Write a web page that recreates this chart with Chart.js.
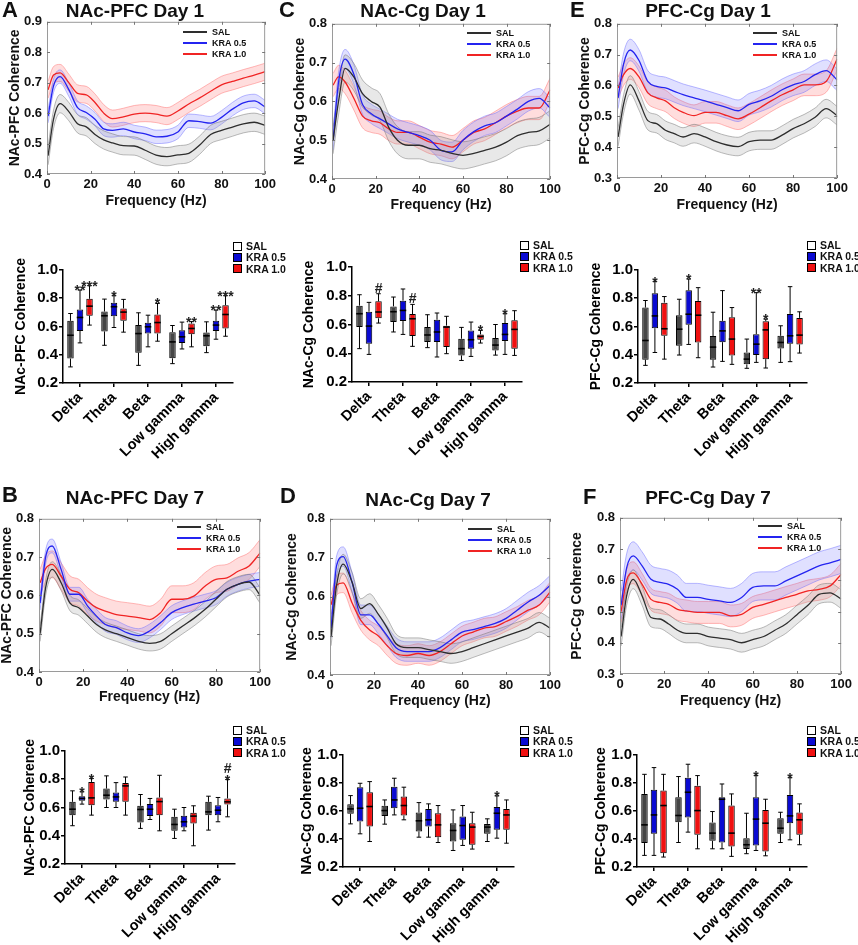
<!DOCTYPE html>
<html><head><meta charset="utf-8">
<script src="https://cdn.jsdelivr.net/npm/chart.js@4.4.1/dist/chart.umd.min.js"></script>
<style>
body{margin:0;width:858px;height:945px;background:#fff;position:relative;overflow:hidden;font-family:"Liberation Sans",Arial,sans-serif;}
.pc{position:absolute}
.tx{position:absolute;font-weight:bold;white-space:nowrap;line-height:1;color:#111}
.sw{position:absolute}
</style></head><body>
<script>
// ---------- DATA ----------
const FREQ = [0.5,3,6,10,14,18,22,26,30,35,40,45,50,55,60,65,70,75,80,85,90,95,100];
const GROUPS = ['SAL','KRA 0.5','KRA 1.0'];
const BANDS = ['Delta','Theta','Beta','Low gamma','High gamma'];

// Panel A: NAc-PFC Day 1 (mean coherence)
const A_SAL = [0.46,0.58,0.631,0.605,0.565,0.555,0.53,0.512,0.502,0.493,0.492,0.478,0.462,0.457,0.463,0.468,0.495,0.53,0.543,0.554,0.565,0.57,0.56];
const A_K05 = [0.59,0.69,0.72,0.677,0.618,0.602,0.58,0.548,0.543,0.548,0.538,0.532,0.522,0.524,0.538,0.575,0.572,0.567,0.586,0.613,0.634,0.64,0.62];
const A_K10 = [0.677,0.725,0.732,0.7,0.665,0.66,0.635,0.6,0.582,0.588,0.597,0.6,0.597,0.59,0.607,0.63,0.65,0.672,0.693,0.704,0.715,0.725,0.736];
const A_SEM = [0.03,0.022,0.028];
// Panel C: NAc-Cg Day 1
const C_SAL = [0.5,0.6,0.685,0.663,0.62,0.6,0.585,0.533,0.5,0.487,0.487,0.478,0.474,0.466,0.461,0.466,0.474,0.482,0.495,0.512,0.52,0.524,0.541];
const C_K05 = [0.5,0.65,0.709,0.67,0.592,0.568,0.555,0.542,0.529,0.52,0.512,0.5,0.474,0.47,0.5,0.522,0.537,0.545,0.562,0.58,0.6,0.608,0.583];
const C_K10 = [0.642,0.663,0.65,0.608,0.562,0.55,0.545,0.529,0.52,0.52,0.508,0.495,0.49,0.482,0.5,0.52,0.529,0.545,0.562,0.575,0.583,0.583,0.63];
const C_SEM = [0.035,0.025,0.03];
// Panel E: PFC-Cg Day 1
const E_SAL = [0.433,0.54,0.602,0.55,0.486,0.476,0.455,0.444,0.433,0.444,0.433,0.418,0.407,0.402,0.418,0.423,0.423,0.439,0.46,0.476,0.497,0.525,0.502];
const E_K05 = [0.56,0.67,0.715,0.681,0.613,0.597,0.592,0.581,0.57,0.56,0.55,0.539,0.528,0.518,0.539,0.55,0.565,0.586,0.602,0.613,0.635,0.648,0.618];
const E_K10 = [0.592,0.635,0.655,0.628,0.576,0.56,0.55,0.528,0.513,0.502,0.513,0.513,0.502,0.492,0.507,0.528,0.55,0.57,0.586,0.602,0.602,0.613,0.686];
const E_SEM = [0.03,0.035,0.035];
// Panel B: NAc-PFC Day 7
const B_SAL = [0.5,0.62,0.668,0.633,0.58,0.568,0.546,0.524,0.51,0.5,0.49,0.48,0.475,0.48,0.5,0.52,0.54,0.563,0.59,0.616,0.629,0.635,0.6];
const B_K05 = [0.58,0.7,0.729,0.668,0.603,0.603,0.572,0.546,0.524,0.516,0.502,0.495,0.507,0.529,0.555,0.568,0.577,0.585,0.594,0.616,0.629,0.637,0.642];
const B_K10 = [0.633,0.67,0.681,0.65,0.616,0.607,0.585,0.568,0.559,0.55,0.546,0.542,0.537,0.555,0.59,0.59,0.598,0.624,0.642,0.646,0.663,0.677,0.711];
const B_SEM = [0.02,0.018,0.035];
// Panel D: NAc-Cg Day 7
const D_SAL = [0.5,0.63,0.684,0.638,0.57,0.583,0.555,0.52,0.48,0.47,0.47,0.465,0.46,0.455,0.46,0.47,0.48,0.49,0.5,0.51,0.52,0.535,0.52];
const D_K05 = [0.52,0.68,0.703,0.638,0.554,0.554,0.53,0.5,0.47,0.46,0.46,0.46,0.47,0.49,0.51,0.516,0.524,0.532,0.545,0.566,0.587,0.604,0.63];
const D_K10 = [0.58,0.63,0.636,0.585,0.54,0.515,0.5,0.475,0.455,0.45,0.455,0.45,0.46,0.48,0.5,0.51,0.52,0.524,0.537,0.55,0.566,0.579,0.613];
const D_SEM = [0.025,0.025,0.025];
// Panel F: PFC-Cg Day 7
const F_SAL = [0.42,0.55,0.603,0.55,0.481,0.476,0.46,0.44,0.43,0.43,0.42,0.415,0.41,0.4,0.41,0.42,0.44,0.46,0.49,0.52,0.555,0.56,0.54];
const F_K05 = [0.52,0.64,0.678,0.646,0.603,0.593,0.587,0.571,0.545,0.545,0.539,0.534,0.529,0.545,0.577,0.582,0.582,0.598,0.614,0.63,0.646,0.656,0.667];
const F_K10 = [0.5,0.6,0.624,0.587,0.539,0.529,0.523,0.507,0.502,0.497,0.497,0.497,0.486,0.491,0.513,0.523,0.534,0.545,0.555,0.566,0.571,0.582,0.619];
const F_SEM = [0.03,0.045,0.035];

// Box plots: per band [min, q1, median, q3, max]
const BA_SAL = [[0.314,0.373,0.538,0.64,0.692],[0.467,0.565,0.676,0.706,0.794],[0.325,0.415,0.55,0.61,0.697],[0.337,0.375,0.491,0.56,0.607],[0.415,0.46,0.534,0.557,0.633]];
const BA_K05 = [[0.484,0.569,0.664,0.72,0.858],[0.593,0.673,0.74,0.768,0.818],[0.456,0.55,0.598,0.626,0.68],[0.441,0.484,0.527,0.574,0.631],[0.51,0.569,0.61,0.64,0.716]];
const BA_K10 = [[0.61,0.676,0.744,0.796,0.889],[0.56,0.64,0.702,0.728,0.792],[0.496,0.55,0.628,0.685,0.763],[0.456,0.546,0.586,0.621,0.635],[0.531,0.586,0.685,0.751,0.818]];
const BA_MARKS = [['','**','***'],['','*',''],['','','*'],['','','**'],['','**','***']];

const BC_SAL = [[0.432,0.582,0.675,0.731,0.807],[0.548,0.617,0.689,0.726,0.791],[0.439,0.478,0.527,0.582,0.668],[0.35,0.385,0.432,0.501,0.58],[0.387,0.42,0.457,0.506,0.6]];
const BC_K05 = [[0.392,0.466,0.589,0.689,0.754],[0.531,0.624,0.698,0.766,0.847],[0.374,0.478,0.548,0.633,0.68],[0.378,0.432,0.494,0.559,0.617],[0.392,0.485,0.531,0.61,0.675]];
const BC_K10 = [[0.61,0.643,0.687,0.761,0.814],[0.448,0.52,0.64,0.673,0.74],[0.397,0.443,0.582,0.592,0.657],[0.471,0.494,0.517,0.531,0.559],[0.385,0.432,0.566,0.629,0.696]];
const BC_MARKS = [['','','#'],['','','#'],['','',''],['','','*'],['','*','']];

const BE_SAL = [[0.325,0.365,0.501,0.734,0.784],[0.398,0.464,0.581,0.68,0.793],[0.313,0.365,0.454,0.532,0.701],[0.304,0.332,0.369,0.416,0.511],[0.346,0.445,0.487,0.534,0.605]];
const BE_K05 = [[0.416,0.588,0.675,0.835,0.918],[0.473,0.612,0.687,0.856,0.936],[0.353,0.489,0.569,0.64,0.854],[0.346,0.398,0.475,0.546,0.84],[0.351,0.478,0.534,0.689,0.882]];
const BE_K10 = [[0.369,0.534,0.584,0.769,0.812],[0.379,0.487,0.68,0.781,0.875],[0.332,0.395,0.511,0.666,0.734],[0.306,0.369,0.576,0.638,0.652],[0.412,0.473,0.539,0.661,0.704]];
const BE_MARKS = [['','*',''],['','*',''],['','',''],['','**','*'],['','','']];

const BB_SAL = [[0.471,0.546,0.588,0.64,0.718],[0.6,0.656,0.687,0.734,0.824],[0.452,0.494,0.586,0.612,0.692],[0.381,0.435,0.48,0.534,0.588],[0.44,0.546,0.569,0.64,0.68]];
const BB_K05 = [[0.624,0.647,0.664,0.68,0.711],[0.6,0.64,0.675,0.706,0.776],[0.515,0.539,0.588,0.624,0.664],[0.435,0.459,0.499,0.541,0.6],[0.499,0.546,0.581,0.616,0.671]];
const BB_K10 = [[0.546,0.616,0.668,0.781,0.805],[0.546,0.64,0.753,0.774,0.816],[0.435,0.546,0.642,0.671,0.828],[0.329,0.487,0.539,0.562,0.612],[0.534,0.621,0.64,0.664,0.798]];
const BB_MARKS = [['','*','*'],['','',''],['','',''],['','',''],['','','#\n*']];

const BD_SAL = [[0.508,0.58,0.615,0.648,0.71],[0.506,0.565,0.603,0.637,0.679],[0.413,0.454,0.53,0.589,0.66],[0.318,0.382,0.461,0.513,0.608],[0.382,0.437,0.485,0.508,0.544]];
const BD_K05 = [[0.437,0.525,0.62,0.77,0.798],[0.572,0.62,0.679,0.774,0.834],[0.413,0.489,0.537,0.615,0.651],[0.354,0.394,0.496,0.561,0.639],[0.406,0.466,0.584,0.629,0.708]];
const BD_K10 = [[0.382,0.489,0.632,0.734,0.81],[0.537,0.568,0.639,0.703,0.77],[0.375,0.413,0.501,0.584,0.639],[0.328,0.359,0.485,0.513,0.591],[0.37,0.466,0.572,0.615,0.679]];
const BD_MARKS = [['','',''],['','',''],['','',''],['','',''],['','*','']];

const BF_SAL = [[0.283,0.371,0.501,0.722,0.862],[0.375,0.52,0.568,0.698,0.846],[0.33,0.387,0.442,0.518,0.596],[0.295,0.328,0.359,0.406,0.584],[0.375,0.437,0.477,0.549,0.591]];
const BF_K05 = [[0.283,0.437,0.572,0.751,0.91],[0.449,0.553,0.734,0.838,0.934],[0.33,0.375,0.684,0.698,0.793],[0.318,0.354,0.542,0.698,0.853],[0.394,0.513,0.565,0.715,0.838]];
const BF_K10 = [[0.271,0.299,0.639,0.746,0.862],[0.33,0.43,0.603,0.781,0.853],[0.276,0.347,0.442,0.639,0.722],[0.28,0.311,0.513,0.608,0.684],[0.359,0.43,0.537,0.589,0.651]];
const BF_MARKS = [['','',''],['','',''],['','',''],['','*',''],['','*','']];

// ---------- STYLE / LAYOUT ----------
const FONT = '"Liberation Sans", Arial, sans-serif';
const LINE = ['#2e2e2e','#2424f0','#f02424'];
const EDGE = ['rgba(110,110,110,0.6)','rgba(110,110,255,0.6)','rgba(255,110,110,0.6)'];
const BAND = ['rgba(150,150,150,0.22)','rgba(100,100,255,0.2)','rgba(255,100,100,0.22)'];
const BOXC = ['#464646','#0a0ad2','#f01010'];
const LEGBOX = ['#ffffff','#0a0ad2','#f01010'];

const LINE_PANELS = [
 {plot:[47,19,269,174], y:[0.4,0.9], yt:'NAc-PFC Coherence', ytx:15, xty:202, title:'NAc-PFC Day 1', tc:[135,10], letter:'A', lp:[2,10], leg:[183,32], s:[A_SAL,A_K05,A_K10], sem:A_SEM},
 {plot:[332,21,554,179], y:[0.4,0.8], yt:'NAc-Cg Coherence', ytx:300, xty:206, title:'NAc-Cg Day 1', tc:[423,10], letter:'C', lp:[279,10], leg:[467,33], s:[C_SAL,C_K05,C_K10], sem:C_SEM},
 {plot:[617,21,841,178], y:[0.3,0.8], yt:'PFC-Cg Coherence', ytx:585, xty:206, title:'PFC-Cg Day 1', tc:[708,10], letter:'E', lp:[570,10], leg:[753,33], s:[E_SAL,E_K05,E_K10], sem:E_SEM},
 {plot:[39,516,264,672], y:[0.4,0.8], yt:'NAc-PFC Coherence', ytx:7, xty:698, title:'NAc-PFC Day 7', tc:[135,497], letter:'B', lp:[2,495], leg:[177,527], s:[B_SAL,B_K05,B_K10], sem:B_SEM},
 {plot:[330,516,554,675], y:[0.4,0.8], yt:'NAc-Cg Coherence', ytx:292, xty:702, title:'NAc-Cg Day 7', tc:[428,499], letter:'D', lp:[280,496], leg:[468,529], s:[D_SAL,D_K05,D_K10], sem:D_SEM},
 {plot:[620,515,845,674], y:[0.3,0.8], yt:'PFC-Cg Coherence', ytx:577, xty:702, title:'PFC-Cg Day 7', tc:[708,497], letter:'F', lp:[583,497], leg:[758,526], s:[F_SAL,F_K05,F_K10], sem:F_SEM},
];
const BOX_PANELS = [
 {plot:[63,270,233,383], yt:'NAc-PFC Coherence', ytx:21, leg:[233,246], s:[BA_SAL,BA_K05,BA_K10], marks:BA_MARKS},
 {plot:[352,267,522,382], yt:'NAc-Cg Coherence', ytx:309, leg:[520,245], s:[BC_SAL,BC_K05,BC_K10], marks:BC_MARKS},
 {plot:[638,270,807,383], yt:'PFC-Cg Coherence', ytx:596, leg:[807,245], s:[BE_SAL,BE_K05,BE_K10], marks:BE_MARKS},
 {plot:[65,751,235,864], yt:'NAc-PFC Coherence', ytx:30, leg:[233,730], s:[BB_SAL,BB_K05,BB_K10], marks:BB_MARKS},
 {plot:[343,755,514,867], yt:'NAc-Cg Coherence', ytx:307, leg:[520,730], s:[BD_SAL,BD_K05,BD_K10], marks:BD_MARKS},
 {plot:[637,755,807,867], yt:'PFC-Cg Coherence', ytx:601, leg:[807,730], s:[BF_SAL,BF_K05,BF_K10], marks:BF_MARKS},
];

Chart.defaults.font.family = FONT;
Chart.defaults.font.weight = 'bold';
Chart.defaults.color = '#111';
Chart.defaults.animation = false;

function mkCanvas(L,T,W,H){
  const d=document.createElement('div'); d.className='pc';
  d.style.cssText=`left:${L}px;top:${T}px;width:${W}px;height:${H}px`;
  const c=document.createElement('canvas'); c.width=W; c.height=H;
  c.style.width=W+'px'; c.style.height=H+'px';
  d.appendChild(c); document.body.appendChild(d); return c;
}
function addText(txt,x,y,size,center){
  const d=document.createElement('div'); d.className='tx'; d.textContent=txt;
  d.style.left=x+'px'; d.style.top=y+'px'; d.style.fontSize=size+'px';
  d.style.transform=center?'translate(-50%,-50%)':'translateY(-50%)';
  document.body.appendChild(d);
}
function addSw(x,y,w,h,bg,border){
  const d=document.createElement('div'); d.className='sw';
  d.style.cssText=`left:${x}px;top:${y}px;width:${w}px;height:${h}px;background:${bg};box-sizing:border-box;${border?'border:1px solid #000;':''}`;
  document.body.appendChild(d);
}

const framePlugin = {
  id:'frame',
  afterDraw(chart){
    const {ctx, chartArea:a, scales:{x,y}} = chart;
    ctx.save();
    ctx.strokeStyle='#9a9a9a'; ctx.lineWidth=1;
    ctx.strokeRect(a.left+0.5,a.top+0.5,a.right-a.left-1,a.bottom-a.top-1);
    ctx.strokeStyle='#777'; ctx.beginPath();
    const tl=3;
    x.ticks.forEach(t=>{const p=Math.round(x.getPixelForValue(t.value))+0.5;
      ctx.moveTo(p,a.bottom); ctx.lineTo(p,a.bottom-tl); ctx.moveTo(p,a.top); ctx.lineTo(p,a.top+tl);});
    y.ticks.forEach(t=>{const p=Math.round(y.getPixelForValue(t.value))+0.5;
      ctx.moveTo(a.left,p); ctx.lineTo(a.left+tl,p); ctx.moveTo(a.right,p); ctx.lineTo(a.right-tl,p);});
    ctx.stroke(); ctx.restore();
  }
};

function lineChart(p){
  const [l,t,r,b]=p.plot;
  const lh=14*1.2;
  const L=Math.round(p.ytx-lh/2), T=t-10;
  const yW=l-L, xH=Math.round(p.xty-b+lh/2);
  const W=r-L+10, H=b-T+xH;
  const c=mkCanvas(L,T,W,H);
  const datasets=[];
  p.s.forEach((m,k)=>datasets.push({label:GROUPS[k], data:FREQ.map((f,i)=>({x:f,y:m[i]})), borderColor:LINE[k], borderWidth:1.3, fill:false, pointRadius:0, cubicInterpolationMode:'monotone'}));
  p.s.forEach((m,k)=>{
    datasets.push({data:FREQ.map((f,i)=>({x:f,y:m[i]+p.sem[k]})), borderColor:EDGE[k], borderWidth:0.8, backgroundColor:BAND[k], fill:'+1', pointRadius:0, cubicInterpolationMode:'monotone'});
    datasets.push({data:FREQ.map((f,i)=>({x:f,y:m[i]-p.sem[k]})), borderColor:EDGE[k], borderWidth:0.8, fill:false, pointRadius:0, cubicInterpolationMode:'monotone'});
  });
  new Chart(c,{type:'line', data:{datasets}, plugins:[framePlugin], options:{
    responsive:false, events:[], layout:{padding:{left:0,top:10,right:10,bottom:0}},
    plugins:{legend:{display:false}, tooltip:{enabled:false}},
    scales:{
      x:{type:'linear', min:0, max:100, ticks:{stepSize:20, padding:3, maxRotation:0, font:{size:13,weight:'bold'}, color:'#111'},
         grid:{display:false, drawTicks:false}, border:{display:false},
         title:{display:true, text:'Frequency (Hz)', font:{size:14,weight:'bold'}, padding:0, color:'#111'},
         afterFit(s){s.height=xH;}},
      y:{type:'linear', min:p.y[0], max:p.y[1], ticks:{stepSize:0.1, padding:5, callback:v=>v.toFixed(1), font:{size:13,weight:'bold'}, color:'#111'},
         grid:{display:false, drawTicks:false}, border:{display:false},
         title:{display:true, text:p.yt, font:{size:14,weight:'bold'}, padding:0, color:'#111'},
         afterFit(s){s.width=yW;}}
    }}});
  addText(p.title,p.tc[0],p.tc[1],19,true);
  addText(p.letter,p.lp[0],p.lp[1],22,false);
  GROUPS.forEach((g,k)=>{
    const yy=p.leg[1]+k*11;
    addSw(p.leg[0],yy-0.75,24,1.5,LINE[k],false);
    addText(g,p.leg[0]+29,yy,9,false);
  });
}

const boxPlugin = {
  id:'boxw',
  afterDatasetsDraw(chart){
    const {ctx, scales:{y}} = chart;
    chart.data.datasets.forEach((ds,di)=>{
      const meta=chart.getDatasetMeta(di);
      meta.data.forEach((el,i)=>{
        const s=ds.stats[i], x=el.x, w=el.width;
        const Y=v=>y.getPixelForValue(v);
        ctx.save(); ctx.strokeStyle='#000'; ctx.lineWidth=1; ctx.beginPath();
        ctx.moveTo(x,Y(s[3])); ctx.lineTo(x,Y(s[4]));
        ctx.moveTo(x,Y(s[1])); ctx.lineTo(x,Y(s[0]));
        const cw=w*0.35;
        ctx.moveTo(x-cw,Y(s[4])); ctx.lineTo(x+cw,Y(s[4]));
        ctx.moveTo(x-cw,Y(s[0])); ctx.lineTo(x+cw,Y(s[0]));
        ctx.stroke();
        ctx.lineWidth=1.6; ctx.beginPath();
        ctx.moveTo(x-w/2,Y(s[2])); ctx.lineTo(x+w/2,Y(s[2])); ctx.stroke();
        const mk=ds.marks[i];
        if(mk){
          ctx.fillStyle='#222'; ctx.font='bold 14px '+FONT; ctx.textAlign='center'; ctx.textBaseline='alphabetic';
          let cur=Y(s[4])-1;
          mk.split('\n').reverse().forEach(line=>{
            const star=line.indexOf('*')>=0;
            const base=star?cur+6:cur;
            ctx.fillText(line,x,base);
            cur=base-10-1.5;
          });
        }
        ctx.restore();
      });
    });
  }
};

function boxChart(p){
  const [l,t,r,b]=p.plot;
  const lh=14*1.2;
  const L=Math.round(p.ytx-lh/2), T=t-22;
  const yW=l-L, xH=80;
  const W=r-L+4, H=b-T+xH;
  const c=mkCanvas(L,T,W,H);
  const datasets=p.s.map((st,k)=>({label:GROUPS[k], data:st.map(v=>[v[1],v[3]]), stats:st, marks:p.marks.map(row=>row[k]),
     backgroundColor:BOXC[k], borderColor:'#000', borderWidth:1, borderSkipped:false, barPercentage:0.68, categoryPercentage:0.84}));
  new Chart(c,{type:'bar', data:{labels:BANDS, datasets}, plugins:[boxPlugin], options:{
    responsive:false, events:[], layout:{padding:{left:0,top:22,right:4,bottom:0}},
    plugins:{legend:{display:false}, tooltip:{enabled:false}},
    scales:{
      x:{type:'category', offset:true, grid:{display:true, drawOnChartArea:false, offset:false, tickLength:4, color:'#000', lineWidth:1.5},
         border:{display:true, color:'#000', width:1.5},
         ticks:{font:{size:14.5,weight:'bold'}, color:'#000', minRotation:45, maxRotation:45, autoSkip:false, padding:2},
         afterFit(s){s.height=xH;}},
      y:{type:'linear', min:0.2, max:1.0, ticks:{stepSize:0.2, padding:1, callback:v=>v.toFixed(1), font:{size:15,weight:'bold'}, color:'#000'},
         grid:{display:true, drawOnChartArea:false, tickLength:4, color:'#000', lineWidth:1.5},
         border:{display:true, color:'#000', width:1.5},
         title:{display:true, text:p.yt, font:{size:14,weight:'bold'}, padding:0, color:'#000'},
         afterFit(s){s.width=yW;}}
    }}});
  GROUPS.forEach((g,k)=>{
    const yy=p.leg[1]+k*11.3;
    addSw(p.leg[0],yy-4.5,9,9,LEGBOX[k],true);
    addText(g,p.leg[0]+13,yy,10.5,false);
  });
}

LINE_PANELS.forEach(lineChart);
BOX_PANELS.forEach(boxChart);
</script>
</body></html>
